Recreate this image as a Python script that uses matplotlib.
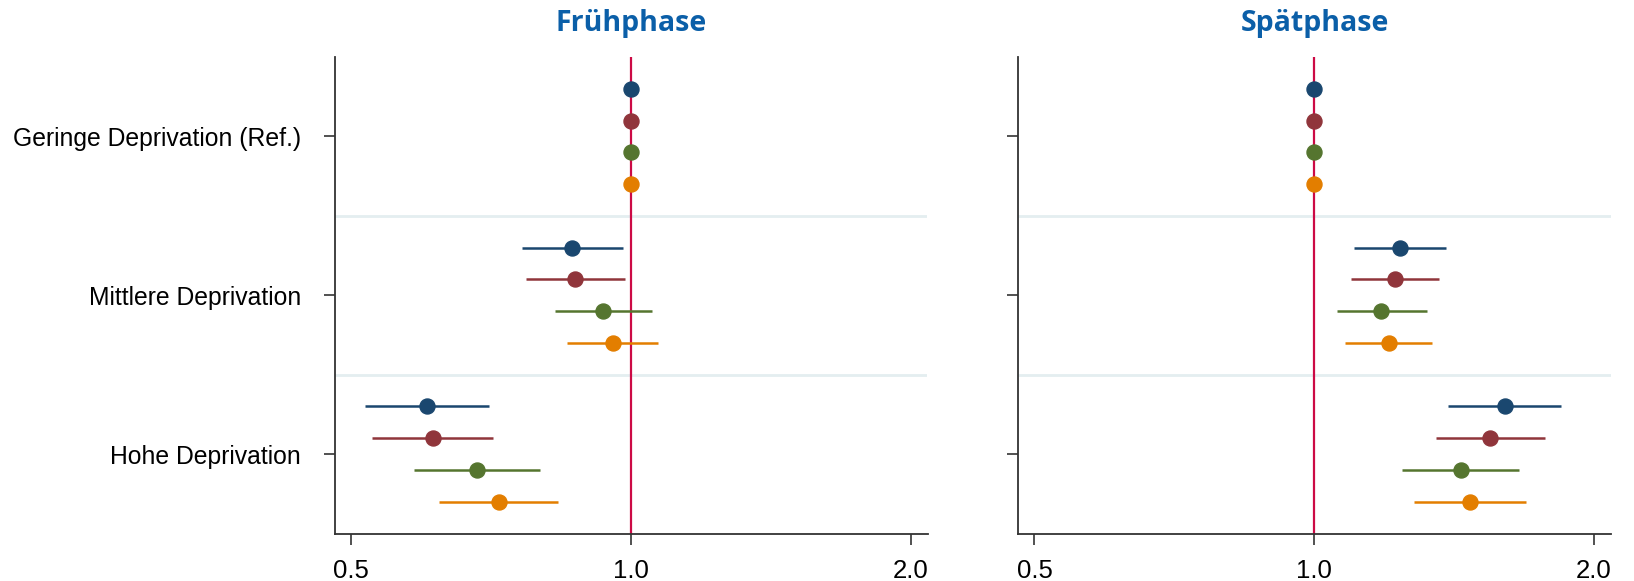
import matplotlib
matplotlib.use("Agg")
import matplotlib.pyplot as plt
import numpy as np

groups = ["Geringe Deprivation (Ref.)", "Mittlere Deprivation", "Hohe Deprivation"]
colors = ["#1a476f", "#90353b", "#55752f", "#e37e00"]
titles = ["Frühphase", "Spätphase"]

# odds ratios per group (rows) and model (columns)
early_est = [[1.0, 1.0, 1.0, 1.0],
             [0.864, 0.871, 0.934, 0.956],
             [0.604, 0.612, 0.683, 0.721]]
early_lo = [[1.0, 1.0, 1.0, 1.0],
            [0.764, 0.771, 0.829, 0.853],
            [0.518, 0.527, 0.585, 0.622]]
early_hi = [[1.0, 1.0, 1.0, 1.0],
            [0.980, 0.985, 1.053, 1.071],
            [0.704, 0.711, 0.798, 0.835]]

late_est = [[1.0, 1.0, 1.0, 1.0],
            [1.238, 1.222, 1.181, 1.204],
            [1.603, 1.546, 1.437, 1.470]]
late_lo = [[1.0, 1.0, 1.0, 1.0],
           [1.104, 1.095, 1.058, 1.080],
           [1.394, 1.353, 1.244, 1.280]]
late_hi = [[1.0, 1.0, 1.0, 1.0],
           [1.386, 1.363, 1.321, 1.340],
           [1.844, 1.773, 1.659, 1.690]]

xticks = [0.5, 1.0, 2.0]
xticklabels = ["0.5", "1.0", "2.0"]

W, H = 1634, 581
fig = plt.figure(figsize=(W / 100, H / 100), dpi=100)
ax1 = fig.add_axes([334.5 / W, (H - 533.5) / H, 593 / W, 476.5 / H])
ax2 = fig.add_axes([1018 / W, (H - 533.5) / H, 593 / W, 476.5 / H])

offsets = [-0.3, -0.1, 0.1, 0.3]

panels = [(ax1, early_est, early_lo, early_hi), (ax2, late_est, late_lo, late_hi)]
for i, (ax, est, lo, hi) in enumerate(panels):
    ax.set_xscale("log")
    ax.axvline(1.0, color="#cc0a45", linewidth=1.6, zorder=1)
    for sep in [0.5, 1.5]:
        ax.axhline(sep, color="#e4eef0", linewidth=2, zorder=0)
    for g in range(len(groups)):
        for m in range(4):
            y = g + offsets[m]
            ax.hlines(y, lo[g][m], hi[g][m], color=colors[m], linewidth=1.8, zorder=2)
            ax.plot(est[g][m], y, "o", color=colors[m], markersize=10.8, zorder=3)
    ax.set_xlim(0.48, 2.086)
    ax.set_ylim(2.5, -0.5)
    ax.set_xticks(xticks)
    ax.set_xticklabels(xticklabels, fontsize=18.5, family="Liberation Sans")
    ax.minorticks_off()
    ax.set_yticks(range(len(groups)))
    if i == 0:
        ax.set_yticklabels(groups, fontsize=17.8, family="Liberation Sans")
    else:
        ax.set_yticklabels([])
    ax.tick_params(axis="x", length=8, width=1.2, color="#333333", pad=10)
    ax.tick_params(axis="y", length=8, width=1.2, color="#333333", pad=16)
    ax.spines["top"].set_visible(False)
    ax.spines["right"].set_visible(False)
    ax.spines["left"].set_linewidth(1.3)
    ax.spines["bottom"].set_linewidth(1.3)
    ax.spines["left"].set_color("#333333")
    ax.spines["bottom"].set_color("#333333")
    ax.set_title(titles[i], fontsize=20.5, fontweight="bold", color="#0b5fa8",
                 family="Open Sans", pad=19)

fig.savefig("out.png", dpi=100)
